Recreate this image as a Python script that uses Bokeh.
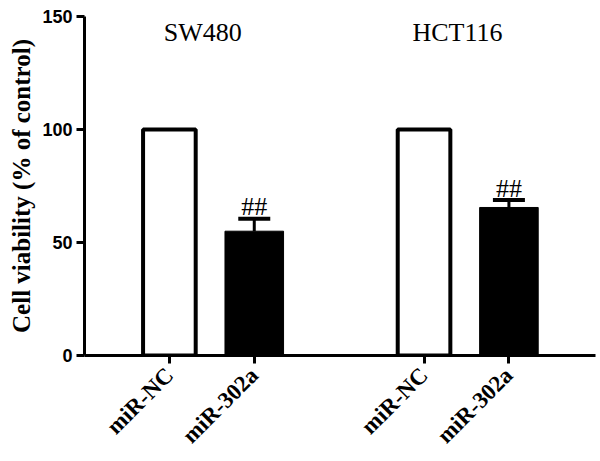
from math import pi
from bokeh.plotting import figure
from bokeh.models import ColumnDataSource, Range1d, FixedTicker, Whisker, TeeHead
from bokeh.core.properties import value
from bokeh.embed import file_html
from bokeh.resources import INLINE

# ---- data ----
cell_lines = ["SW480", "HCT116"]
treatments = ["miR-NC", "miR-302a"]
viability = [100.0, 55.0, 100.0, 65.5]   # % of control
sd = [0.0, 5.5, 0.0, 3.3]
significance = ["", "##", "", "##"]
y_ticks = [0, 50, 100, 150]

# ---- derive positions from indices ----
xs, labels, fills, uppers = [], [], [], []
k = 0
for gi, g in enumerate(cell_lines):
    for ti, t in enumerate(treatments):
        xs.append(gi * (len(treatments) + 1) + ti + 1)
        labels.append(t)
        fills.append("white" if ti == 0 else "black")
        uppers.append(viability[k] + sd[k])
        k += 1
group_x = [gi * (len(treatments) + 1) + (len(treatments) + 1) / 2 for gi in range(len(cell_lines))]

nc = ColumnDataSource(dict(x=[xs[i] for i in range(len(xs)) if fills[i] == "white"],
                           y=[viability[i] for i in range(len(xs)) if fills[i] == "white"]))
tr = ColumnDataSource(dict(x=[xs[i] for i in range(len(xs)) if fills[i] == "black"],
                           y=[viability[i] for i in range(len(xs)) if fills[i] == "black"],
                           upper=[uppers[i] for i in range(len(xs)) if fills[i] == "black"],
                           sig=[significance[i] for i in range(len(xs)) if fills[i] == "black"]))

p = figure(width=600, height=461, output_backend="svg", toolbar_location=None,
           x_range=Range1d(0, 6.02), y_range=Range1d(0, 150),
           min_border_left=84, min_border_right=5, min_border_top=16, min_border_bottom=106)
p.outline_line_color = None
p.grid.visible = False
p.background_fill_color = "white"

# bars
p.vbar(x="x", top="y", bottom=0, width=0.62, source=nc, fill_color="white",
       line_color="black", line_width=4)
p.vbar(x="x", top="y", bottom=0, width=0.69, source=tr, fill_color="black",
       line_color="black", line_width=1)

# error bars
w = Whisker(source=tr, base="x", upper="upper", lower="y",
            upper_head=TeeHead(size=32, line_width=4, line_color="black"),
            lower_head=None, line_width=3, line_color="black")
p.add_layout(w)

# significance marks
p.text(x="x", y="upper", text="sig", source=tr, text_align="center", text_baseline="middle",
       y_offset=-12, text_font=value("Liberation Serif"), text_font_size="26px", text_color="black")

# group titles
p.text(x=group_x, y=[150] * len(group_x), text=cell_lines, text_align="center",
       text_baseline="middle", x_offset=-9, y_offset=16,
       text_font=value("Liberation Serif"), text_font_size="26px", text_color="black")

# axes
xa = p.xaxis[0]
xa.ticker = FixedTicker(ticks=xs)
xa.major_label_overrides = {x: l for x, l in zip(xs, labels)}
xa.major_label_orientation = pi / 4
xa.major_label_text_font = "Liberation Serif"
xa.major_label_text_font_style = "bold"
xa.major_label_text_font_size = "23px"
xa.major_label_text_color = "black"
xa.minor_tick_line_color = None

ya = p.yaxis[0]
ya.ticker = FixedTicker(ticks=y_ticks)
ya.axis_label = "Cell viability (% of control)"
ya.axis_label_text_font = "Liberation Serif"
ya.axis_label_text_font_style = "bold"
ya.axis_label_text_font_size = "25px"
ya.axis_label_text_color = "black"
ya.axis_label_standoff = 4
ya.major_label_text_font = "Liberation Sans"
ya.major_label_text_font_style = "bold"
ya.major_label_text_font_size = "18px"
ya.major_label_text_color = "black"
ya.minor_tick_line_color = None

for ax in (xa, ya):
    ax.axis_line_width = 3
    ax.axis_line_color = "black"
    ax.major_tick_line_width = 3
    ax.major_tick_line_color = "black"
    ax.major_tick_in = 0
    ax.major_tick_out = 8
    ax.major_label_standoff = 4
xa.major_label_standoff = 8

open("out.html", "w").write(file_html(p, INLINE))
